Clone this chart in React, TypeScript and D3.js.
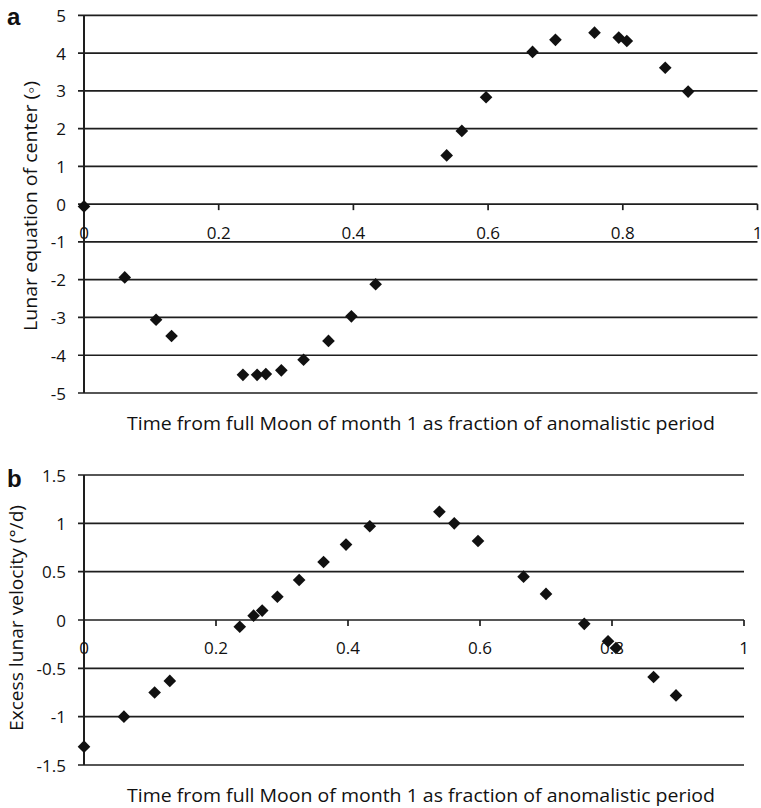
import React from "react";
import * as d3 from "d3";

const timeFraction = [0.0, 0.0605, 0.107, 0.130, 0.236, 0.257, 0.270, 0.293, 0.326, 0.363, 0.397, 0.433, 0.5385, 0.561, 0.597, 0.666, 0.700, 0.758, 0.794, 0.806, 0.863, 0.897];
const equationOfCenter = [-0.06, -1.94, -3.06, -3.49, -4.52, -4.52, -4.5, -4.40, -4.12, -3.62, -2.97, -2.12, 1.29, 1.94, 2.83, 4.03, 4.35, 4.54, 4.41, 4.32, 3.61, 2.98];
const excessVelocity = [-1.31, -1.0, -0.75, -0.63, -0.07, 0.045, 0.097, 0.24, 0.414, 0.60, 0.78, 0.97, 1.12, 1.0, 0.817, 0.448, 0.27, -0.04, -0.22, -0.29, -0.59, -0.78];

const xTicks = [0, 0.2, 0.4, 0.6, 0.8, 1];
const xTickLabels = ["0", "0.2", "0.4", "0.6", "0.8", "1"];
const yTicksA = [5, 4, 3, 2, 1, 0, -1, -2, -3, -4, -5];
const yTicksB = [1.5, 1, 0.5, 0, -0.5, -1, -1.5];

const xTitle = "Time from full Moon of month 1 as fraction of anomalistic period";
const yTitleA = "Lunar equation of center (\u25E6)";
const yTitleB = "Excess lunar velocity (\u00B0/d)";

const FONT = "'Open Sans', 'Noto Sans', sans-serif";
const GRID = "#1e1e1e";

const diamond = d3.symbol().type(d3.symbolSquare).size(80)();

function Panel(props: {
  label: string;
  labelY: number;
  xRange: [number, number];
  yDomain: [number, number];
  yRange: [number, number];
  yTicks: number[];
  values: number[];
  yTitle: string;
  yTitleX: number;
  yTitleY: number;
  yTitleLen: number;
  xTickLabelY: number;
  xTitleY: number;
}) {
  const x = d3.scaleLinear().domain([0, 1]).range(props.xRange);
  const y = d3.scaleLinear().domain(props.yDomain).range(props.yRange);
  const y0 = y(0);
  return (
    <g>
      <text x={7} y={props.labelY} fontFamily="'Liberation Sans', Arial, sans-serif" fontWeight="bold" fontSize={24} fill="#111">
        {props.label}
      </text>
      {props.yTicks.map((t) => (
        <g key={"g" + t}>
          <line x1={props.xRange[0] - 6} x2={props.xRange[1]} y1={y(t)} y2={y(t)} stroke={GRID} strokeWidth={1.7} />
          <text x={66} y={y(t)} textAnchor="end" dominantBaseline="central" fontFamily={FONT} fontSize={17} fill="#111">
            {String(t)}
          </text>
        </g>
      ))}
      <line x1={props.xRange[0]} x2={props.xRange[0]} y1={props.yRange[1]} y2={props.yRange[0]} stroke={GRID} strokeWidth={2} />
      {xTicks.map((t, i) => (
        <g key={"x" + t}>
          <line x1={x(t)} x2={x(t)} y1={y0} y2={y0 + 6} stroke={GRID} strokeWidth={1.7} />
          <text x={x(t)} y={props.xTickLabelY} textAnchor="middle" dominantBaseline="central" fontFamily={FONT} fontSize={17} fill="#111">
            {xTickLabels[i]}
          </text>
        </g>
      ))}
      <text x={421} y={props.xTitleY} textAnchor="middle" dominantBaseline="central" fontFamily={FONT} fontSize={18} fill="#111" textLength={588} lengthAdjust="spacingAndGlyphs">
        {xTitle}
      </text>
      <text
        transform={`translate(${props.yTitleX},${props.yTitleY}) rotate(-90)`}
        textAnchor="middle"
        dominantBaseline="central"
        fontFamily={FONT}
        fontSize={18}
        fill="#111"
        textLength={props.yTitleLen}
        lengthAdjust="spacingAndGlyphs"
      >
        {props.yTitle}
      </text>
      {props.values.map((v, i) => (
        <path key={"p" + i} d={diamond as string} transform={`translate(${x(timeFraction[i])},${y(v)}) rotate(45)`} fill="#111" />
      ))}
    </g>
  );
}

export default function App() {
  return (
    <svg width={761} height={808} style={{ position: "absolute", left: 0, top: 0, background: "#fff" }}>
      <rect width={761} height={808} fill="#fff" />
      <Panel
        label="a"
        labelY={25}
        xRange={[84, 757.5]}
        yDomain={[-5, 5]}
        yRange={[393, 15.3]}
        yTicks={yTicksA}
        values={equationOfCenter}
        yTitle={yTitleA}
        yTitleX={30}
        yTitleY={206}
        yTitleLen={250}
        xTickLabelY={232}
        xTitleY={423}
      />
      <Panel
        label="b"
        labelY={487}
        xRange={[84, 744]}
        yDomain={[-1.5, 1.5]}
        yRange={[765, 475]}
        yTicks={yTicksB}
        values={excessVelocity}
        yTitle={yTitleB}
        yTitleX={16}
        yTitleY={618}
        yTitleLen={226}
        xTickLabelY={647}
        xTitleY={795}
      />
    </svg>
  );
}
